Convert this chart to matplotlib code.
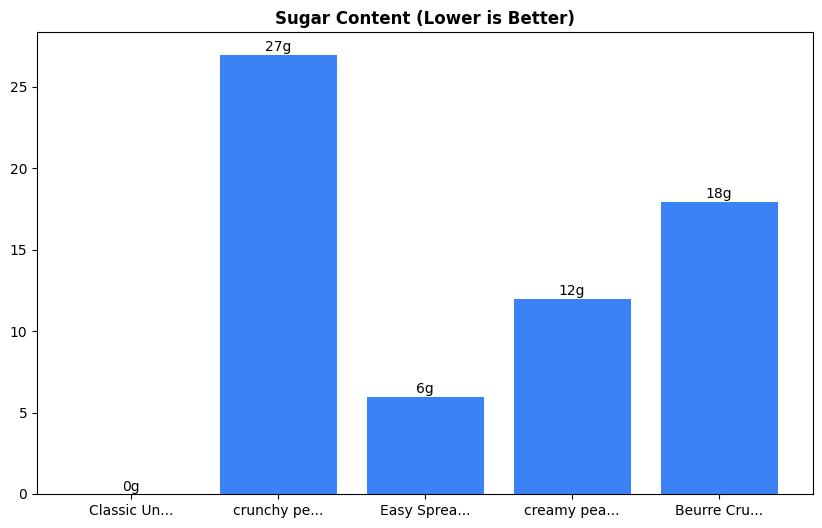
import matplotlib
matplotlib.use("Agg")
import matplotlib.pyplot as plt

products = ["Classic Un...", "crunchy pe...", "Easy Sprea...", "creamy pea...", "Beurre Cru..."]
sugar = [0, 27, 6, 12, 18]

fig = plt.figure(figsize=(8.22, 5.28), dpi=100)
ax = fig.add_axes([0.0450, 0.0644, 0.9440, 0.875])

bars = ax.bar(products, sugar, color="#3b82f6", edgecolor="white", linewidth=0.7, width=0.8)
ax.bar_label(bars, labels=[f"{v}g" for v in sugar], padding=0, fontsize=10)

ax.set_title("Sugar Content (Lower is Better)", fontweight="bold", fontsize=12)

fig.savefig("out.png", dpi=100)
